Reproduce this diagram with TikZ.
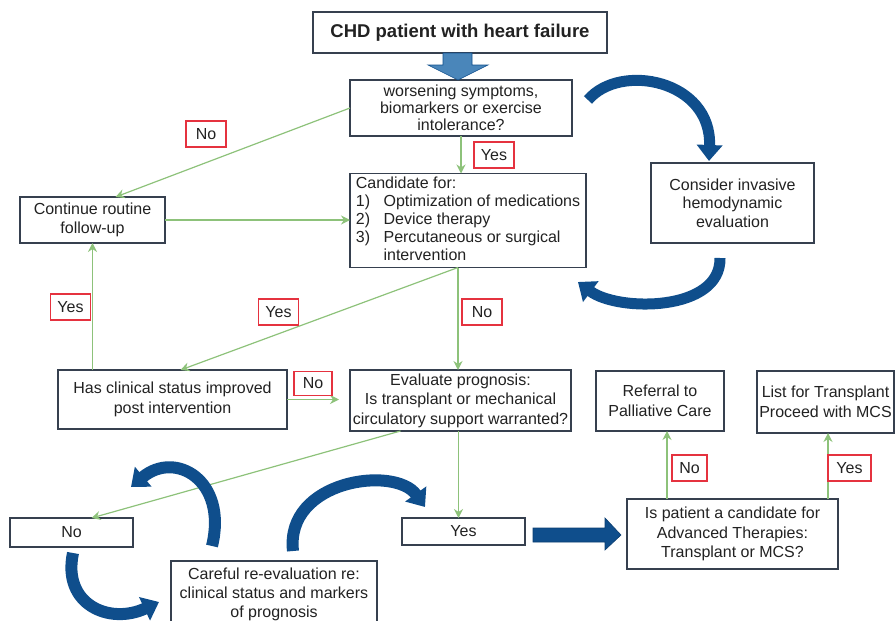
\documentclass[tikz,border=0pt]{standalone}
\usepackage{fontspec}
\setmainfont{Liberation Sans}
\usetikzlibrary{positioning, arrows.meta, calc}
\definecolor{boxgray}{HTML}{36404F}
\definecolor{flowgreen}{HTML}{8DC27A}
\definecolor{labelred}{HTML}{E5323F}
\definecolor{curveblue}{HTML}{0F4E8C}
\definecolor{steelblue}{HTML}{4A86BA}
\definecolor{textgray}{HTML}{222222}
\tikzset{
  step box/.style   = {rectangle, draw=boxgray, line width=1.2pt, fill=white,
                       text=textgray, align=center, inner sep=2pt, outer sep=0pt,
                       font=\fontsize{16}{18.5}\selectfont},
  title box/.style  = {step box, font=\fontsize{18.5}{22}\selectfont\bfseries},
  answer/.style     = {rectangle, draw=labelred, line width=1.1pt, fill=white,
                       text=textgray, minimum width=40pt, minimum height=26pt,
                       inner sep=1pt, outer sep=0pt, font=\fontsize{16}{18}\selectfont},
  flow/.style       = {-{Stealth[length=9pt, width=9pt, inset=3pt]}, flowgreen, line width=1.2pt},
  bend arrow/.style = {-{Triangle[length=16pt, width=25pt]}, curveblue, line width=11pt},
  block arrow/.style = {fill=curveblue, draw=curveblue!80!black, line width=0.6pt},
}

\begin{document}
\begin{tikzpicture}[x=1pt, y=-1pt]
\useasboundingbox (0,0) rectangle (895,621);

% ---------------------------------------------------------------
% Boxes
% ---------------------------------------------------------------
\node[title box, minimum width=294pt, minimum height=41pt] (title) at (460,32.5) {CHD patient with heart failure};
\node[step box, minimum width=222pt, minimum height=56pt, font=\fontsize{16}{17}\selectfont] (worse) at (461,108)
      {worsening symptoms,\\ biomarkers or exercise\\ intolerance?};
\node[step box, minimum width=236pt, minimum height=91pt, font=\fontsize{16}{18}\selectfont] (cand) at (468,220.5)
      {\begin{tabular}{@{}l@{\hspace{13.5pt}}l@{}}
        \multicolumn{2}{@{}l}{Candidate for:}\\
        1) & Optimization of medications\\
        2) & Device therapy\\
        3) & Percutaneous or surgical\\
           & intervention
       \end{tabular}};
\node[step box, minimum width=163pt, minimum height=80pt] (invasive) at (732.5,203)
      {Consider invasive\\ hemodynamic\\ evaluation};
\node[step box, minimum width=145pt, minimum height=46pt] (follow) at (92.5,220) {Continue routine\\ follow-up};
\node[step box, minimum width=229pt, minimum height=59pt, font=\fontsize{16}{20}\selectfont] (improved) at (172.5,399.5)
      {Has clinical status improved\\ post intervention};
\node[step box, minimum width=221pt, minimum height=61pt, font=\fontsize{16}{19.5}\selectfont] (prognosis) at (460.5,400.5)
      {Evaluate prognosis:\\ Is transplant or mechanical\\ circulatory support warranted?};
\node[step box, minimum width=128pt, minimum height=60pt, font=\fontsize{16}{20}\selectfont] (palliative) at (660,401)
      {Referral to\\ Palliative Care};
\node[step box, minimum width=137pt, minimum height=62pt, font=\fontsize{16}{20}\selectfont] (listtx) at (825.5,402)
      {List for Transplant\\ Proceed with MCS};
\node[step box, minimum width=211pt, minimum height=70pt, font=\fontsize{16}{19.5}\selectfont] (advanced) at (732.5,534)
      {Is patient a candidate for\\ Advanced Therapies:\\ Transplant or MCS?};
\node[step box, minimum width=123pt, minimum height=29pt] (nobox) at (71.5,532.5) {No};
\node[step box, minimum width=123pt, minimum height=27pt] (yesbox) at (463.5,531.5) {Yes};
\node[step box, minimum width=206pt, minimum height=66pt, font=\fontsize{16}{19}\selectfont] (careful) at (274,594)
      {Careful re-evaluation re:\\ clinical status and markers\\ of prognosis};

% ---------------------------------------------------------------
% Green flow lines
% ---------------------------------------------------------------
\coordinate (split) at ($(cand.south)+(-10,0)$);
\coordinate (ptop)  at ($(prognosis.south)+(-2,0)$);
\coordinate (advl)  at ($(advanced.north west)+(40,0)$);
\coordinate (advr)  at ($(advanced.north east)+(-10,0)$);

\draw[flow] (worse.west) -- (follow.45);
\draw[flow] (worse.south) -- (worse.south |- cand.north);
\draw[flow] (follow.east) -- (follow.east -| cand.west);
\draw[flow] (split) -- (split |- prognosis.north);
\draw[flow] (split) -- ($(improved.north)+(8,0)$);
\draw[flow] (follow.south |- improved.north) -- (follow.south);
\draw[flow, shorten >=11pt] (improved.east) -- (improved.east -| prognosis.west);
\draw[flow] ($(prognosis.south)+(-60,0)$) -- ($(nobox.north)+(20,0)$);
\draw[flow] (ptop) -- (ptop |- yesbox.north);
\draw[flow] (advl) -- (advl |- palliative.south);
\draw[flow] (advr) -- (advr |- listtx.south);

% ---------------------------------------------------------------
% Yes / No labels
% ---------------------------------------------------------------
\node[answer] (no1)  at (206,134)   {No};
\node[answer] (yes1) at (494,155)   {Yes};
\node[answer] (yes2) at (70.5,307)  {Yes};
\node[answer] (yes3) at (278.5,312) {Yes};
\node[answer] (no2)  at (482,312)   {No};
\node[answer, minimum width=38pt, minimum height=24pt] (no3) at (313,383.5) {No};
\node[answer, minimum width=35pt] (no4)  at (689.5,468) {No};
\node[answer, minimum width=43pt] (yes4) at (849.5,468) {Yes};

% ---------------------------------------------------------------
% Block arrows
% ---------------------------------------------------------------
\draw[block arrow, fill=steelblue, draw=curveblue, shift={(title.south)}]
  (-17,0) -- (12,0) -- (12,12) -- (28,12) -- (-2,27) -- (-32,12) -- (-17,12) -- cycle;
\draw[block arrow, shift={(yesbox.east)}]
  (8,-3.5) -- (80,-3.5) -- (80,-13.5) -- (96,3.5) -- (80,18.5) -- (80,10.5) -- (8,10.5) -- cycle;

% ---------------------------------------------------------------
% Curved arrows
% ---------------------------------------------------------------
\coordinate (ta) at (588,100);  \coordinate (ha) at (709,161);
\coordinate (tb) at (720,258);  \coordinate (hb) at (578,282);
\coordinate (tc) at (212,546);  \coordinate (hc) at (131,487);
\coordinate (td) at (73,553);   \coordinate (hd) at (159,602);
\coordinate (te) at (293,551);  \coordinate (he) at (425,507);

\draw[bend arrow] (ta) .. controls (620,62) and (712,80) .. (ha);
\draw[bend arrow] (tb) .. controls (721,312) and (618,312) .. (hb);
\draw[bend arrow, line width=12pt] (tc) .. controls (228,480) and (175,450) .. (hc);
\draw[bend arrow, line width=12pt] (td) .. controls (62,605) and (110,625) .. (hd);
\draw[bend arrow, line width=12pt] (te) .. controls (285,480) and (395,465) .. (he);

\end{tikzpicture}
\end{document}
